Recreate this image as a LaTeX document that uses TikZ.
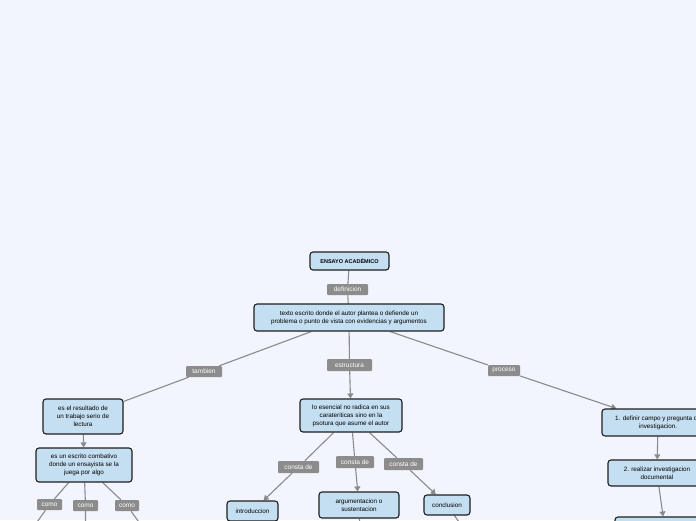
\documentclass[tikz,border=0pt]{standalone}
\usepackage{fontspec}
\setmainfont{Liberation Sans}
\usetikzlibrary{arrows.meta}
\definecolor{bgc}{HTML}{F2F5FD}
\definecolor{nodefill}{HTML}{C4DFF1}
\definecolor{nodeborder}{HTML}{1E1E1E}
\definecolor{labfill}{HTML}{8C8C8C}
\definecolor{linec}{HTML}{8A8A8A}
\pgfdeclarelayer{bg}\pgfdeclarelayer{lines}\pgfsetlayers{bg,lines,main}
\begin{document}
\begin{tikzpicture}[x=1pt,y=-1pt,
 concept/.style={draw=nodeborder, fill=nodefill, line width=1.1pt, rounded corners=3pt, align=center, inner sep=0pt, font=\fontsize{6.3}{8}\selectfont, text=black},
 lab/.style={fill=labfill, rounded corners=1pt, text=white, inner sep=0pt, font=\fontsize{6.5}{8}\selectfont},
 conn/.style={draw=linec, line width=1.1pt},
 arr/.style={conn, -{Triangle[width=6pt,length=5pt]}}]
\useasboundingbox (0,0) rectangle (696,520);
\begin{pgfonlayer}{bg}
\fill[bgc] (0,0) rectangle (696,520);
\end{pgfonlayer}
% concepts
\node[concept, minimum width=79pt, minimum height=18pt, font=\fontsize{5.5}{7}\selectfont\bfseries] (title) at (349.5,261) {ENSAYO ACADÉMICO};
\node[concept, minimum width=190pt, minimum height=27pt] (texto) at (349,317.5) {texto escrito donde el autor plantea o defiende un\\problema o punto de vista con evidencias y argumentos};
\node[concept, minimum width=80pt, minimum height=35pt] (res) at (83,416.5) {es el resultado de\\un trabajo serio de\\lectura};
\node[concept, minimum width=96pt, minimum height=34pt] (comb) at (84,465) {es un escrito combativo\\donde un ensayista se la\\juega por algo};
\node[concept, minimum width=102pt, minimum height=33pt] (esencial) at (351,415.5) {lo esencial no radica en sus\\carateriticas sino en la\\psotura que asume el autor};
\node[concept, minimum width=51pt, minimum height=20pt] (intro) at (252.5,511) {introduccion};
\node[concept, minimum width=80pt, minimum height=26pt] (arg) at (359,505) {argumentacion o\\sustentacion};
\node[concept, minimum width=46pt, minimum height=20pt] (concl) at (447,505) {conclusion};
\node[concept, minimum width=112pt, minimum height=27pt] (def) at (658,422.5) {1. definir campo y pregunta de\\investigacion.};
\node[concept, minimum width=98pt, minimum height=26pt] (real) at (657,473) {2. realizar investigacion\\documental};
\node[concept, minimum width=100pt, minimum height=26pt] (third) at (665,530) {};
% labels
\node[lab, minimum width=41pt, minimum height=11pt] (ldef) at (347.5,289.5) {definicion};
\node[lab, minimum width=36pt, minimum height=11pt] (ltam) at (204,371.5) {tambien};
\node[lab, minimum width=45pt, minimum height=12pt] (lest) at (349.5,365) {estructura};
\node[lab, minimum width=32pt, minimum height=11pt] (lpro) at (504,370.5) {proceso};
\node[lab, minimum width=25pt, minimum height=11pt] (como1) at (49.5,504.5) {como};
\node[lab, minimum width=25pt, minimum height=11pt] (como2) at (85.5,505.5) {como};
\node[lab, minimum width=24pt, minimum height=11pt] (como3) at (127,505.5) {como};
\node[lab, minimum width=41pt, minimum height=12pt] (c1) at (298.5,467) {consta de};
\node[lab, minimum width=38pt, minimum height=12pt] (c2) at (355,462) {consta de};
\node[lab, minimum width=39pt, minimum height=12pt] (c3) at (403.5,464) {consta de};
% free ends
\coordinate (e1) at (30,532);
\coordinate (e2) at (85.5,532);
\coordinate (e3) at (146,532);
\coordinate (e4) at (360,532);
\coordinate (e5) at (466,532);
\begin{pgfonlayer}{lines}
\draw[conn] (title) -- (ldef) -- (texto);
\draw[conn] (texto) -- (ltam) -- (res);
\draw[arr] (texto) -- (lest) -- (esencial);
\draw[arr] (texto) -- (lpro) -- (def);
\draw[arr] (res) -- (comb);
\draw[conn] (comb) -- (como1) -- (e1);
\draw[conn] (comb) -- (como2) -- (e2);
\draw[conn] (comb) -- (como3) -- (e3);
\draw[arr] (esencial) -- (c1) -- (intro);
\draw[arr] (esencial) -- (c2) -- (arg);
\draw[arr] (esencial) -- (c3) -- (concl);
\draw[conn] (arg) -- (e4);
\draw[conn] (concl) -- (e5);
\draw[arr] (def) -- (real);
\draw[arr] (real) -- (third);
\end{pgfonlayer}
\end{tikzpicture}
\end{document}
